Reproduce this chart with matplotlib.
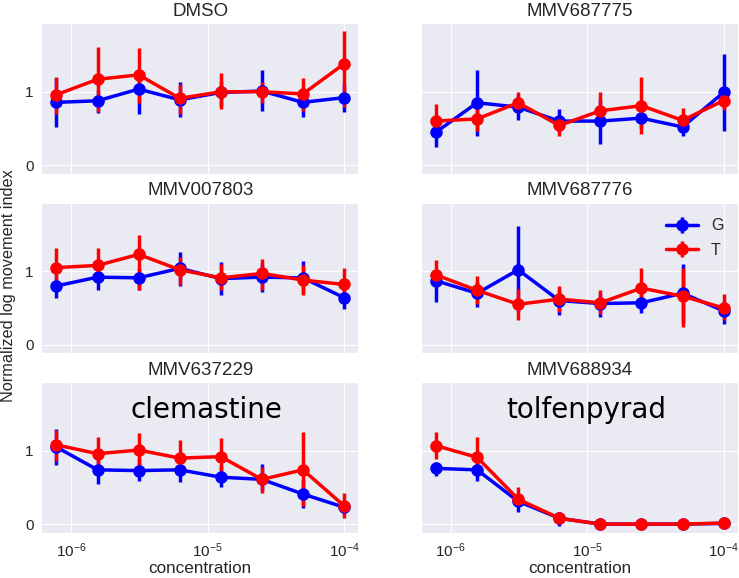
import numpy as np
import matplotlib
matplotlib.use("Agg")
import matplotlib.pyplot as plt

plt.style.use("seaborn-v0_8-darkgrid")

conc = [7.8125e-7, 1.5625e-6, 3.125e-6, 6.25e-6, 1.25e-5, 2.5e-5, 5e-5, 1e-4]

panels = ["DMSO", "MMV687775", "MMV007803", "MMV687776", "MMV637229", "MMV688934"]
names = {"MMV637229": "clemastine", "MMV688934": "tolfenpyrad"}

# mean, lower, upper for each strain (G, T)
g_mean = {
    "DMSO":      [0.855, 0.877, 1.036, 0.89, 0.99, 1.01, 0.855, 0.92],
    "MMV687775": [0.45, 0.85, 0.79, 0.60, 0.60, 0.64, 0.52, 0.99],
    "MMV007803": [0.80, 0.92, 0.91, 1.04, 0.90, 0.92, 0.91, 0.64],
    "MMV687776": [0.87, 0.70, 1.02, 0.60, 0.56, 0.57, 0.70, 0.46],
    "MMV637229": [1.05, 0.74, 0.73, 0.74, 0.64, 0.61, 0.41, 0.23],
    "MMV688934": [0.76, 0.74, 0.31, 0.08, 0.0, 0.0, 0.0, 0.01],
}
g_lo = {
    "DMSO":      [0.52, 0.71, 0.70, 0.66, 0.80, 0.74, 0.66, 0.73],
    "MMV687775": [0.24, 0.40, 0.62, 0.45, 0.29, 0.50, 0.39, 0.47],
    "MMV007803": [0.63, 0.74, 0.75, 0.80, 0.67, 0.72, 0.70, 0.48],
    "MMV687776": [0.58, 0.51, 0.45, 0.41, 0.38, 0.43, 0.30, 0.28],
    "MMV637229": [0.81, 0.55, 0.59, 0.58, 0.50, 0.45, 0.22, 0.14],
    "MMV688934": [0.66, 0.59, 0.17, -0.02, -0.01, -0.01, -0.01, 0.0],
}
g_hi = {
    "DMSO":      [1.19, 1.02, 1.30, 1.13, 1.15, 1.30, 1.05, 1.10],
    "MMV687775": [0.65, 1.29, 0.95, 0.76, 0.90, 0.78, 0.65, 1.51],
    "MMV007803": [0.95, 1.10, 1.05, 1.26, 1.13, 1.10, 1.14, 0.80],
    "MMV687776": [1.00, 0.85, 1.62, 0.75, 0.70, 0.70, 1.10, 0.60],
    "MMV637229": [1.30, 0.95, 0.90, 0.90, 0.80, 0.82, 0.60, 0.32],
    "MMV688934": [0.85, 0.85, 0.40, 0.17, 0.01, 0.01, 0.01, 0.02],
}
t_mean = {
    "DMSO":      [0.96, 1.17, 1.23, 0.91, 1.0, 1.0, 0.97, 1.38],
    "MMV687775": [0.60, 0.63, 0.85, 0.54, 0.74, 0.81, 0.61, 0.88],
    "MMV007803": [1.05, 1.08, 1.23, 1.02, 0.91, 0.97, 0.88, 0.82],
    "MMV687776": [0.95, 0.74, 0.55, 0.62, 0.57, 0.77, 0.66, 0.50],
    "MMV637229": [1.08, 0.96, 1.01, 0.90, 0.92, 0.61, 0.74, 0.25],
    "MMV688934": [1.07, 0.91, 0.34, 0.08, 0.0, 0.0, 0.0, 0.015],
}
t_lo = {
    "DMSO":      [0.70, 0.72, 0.85, 0.70, 0.76, 0.85, 0.74, 0.79],
    "MMV687775": [0.38, 0.47, 0.74, 0.39, 0.54, 0.42, 0.45, 0.75],
    "MMV007803": [0.78, 0.85, 0.74, 0.81, 0.74, 0.74, 0.67, 0.67],
    "MMV687776": [0.78, 0.55, 0.34, 0.45, 0.42, 0.56, 0.24, 0.33],
    "MMV637229": [0.86, 0.80, 0.73, 0.73, 0.73, 0.43, 0.25, 0.08],
    "MMV688934": [0.89, 0.73, 0.25, 0.03, -0.01, -0.01, -0.01, 0.0],
}
t_hi = {
    "DMSO":      [1.20, 1.61, 1.60, 1.10, 1.25, 1.13, 1.19, 1.83],
    "MMV687775": [0.83, 0.85, 1.00, 0.67, 1.00, 1.20, 0.78, 1.00],
    "MMV007803": [1.32, 1.32, 1.50, 1.20, 1.10, 1.17, 1.08, 1.05],
    "MMV687776": [1.15, 0.93, 0.76, 0.80, 0.74, 1.04, 1.05, 0.69],
    "MMV637229": [1.28, 1.19, 1.24, 1.15, 1.18, 0.78, 1.25, 0.42],
    "MMV688934": [1.25, 1.19, 0.50, 0.13, 0.01, 0.01, 0.01, 0.03],
}

fig, axes = plt.subplots(3, 2, sharex=True, sharey=True, figsize=(7.39, 5.78), dpi=100)
fig.subplots_adjust(left=0.057, right=0.9986, top=0.958, bottom=0.078,
                    wspace=0.2, hspace=0.2)

for ax, name in zip(axes.flat, panels):
    for strain, col, m, lo, hi in [("G", "b", g_mean, g_lo, g_hi),
                                   ("T", "r", t_mean, t_lo, t_hi)]:
        mean = np.array(m[name])
        err = [mean - np.array(lo[name]), np.array(hi[name]) - mean]
        ax.errorbar(conc, mean, yerr=err, fmt="-o", color=col, lw=2.5,
                    elinewidth=2.5, ms=8, capsize=0, label=strain)
    ax.set_xscale("log")
    ax.set_title(name, fontsize=13.5)
    ax.tick_params(labelsize=11, pad=6)
    if name in names:
        ax.text(0.52, 0.82, names[name], transform=ax.transAxes, fontsize=20,
                family="DejaVu Sans", ha="center", va="center", color="black")
    if name == "MMV687776":
        ax.legend(loc="upper right", fontsize=11.5, labelspacing=0.6)

axes[0, 0].set_ylim(-0.12, 1.92)
axes[0, 0].set_yticks([0, 1])
for ax in axes[-1]:
    ax.set_xlabel("concentration", fontsize=12.3, labelpad=1)
fig.text(0.012, 0.505, "Normalized log movement index", rotation=90,
         ha="center", va="center", fontsize=11.7)

fig.savefig("out.png", dpi=100)
